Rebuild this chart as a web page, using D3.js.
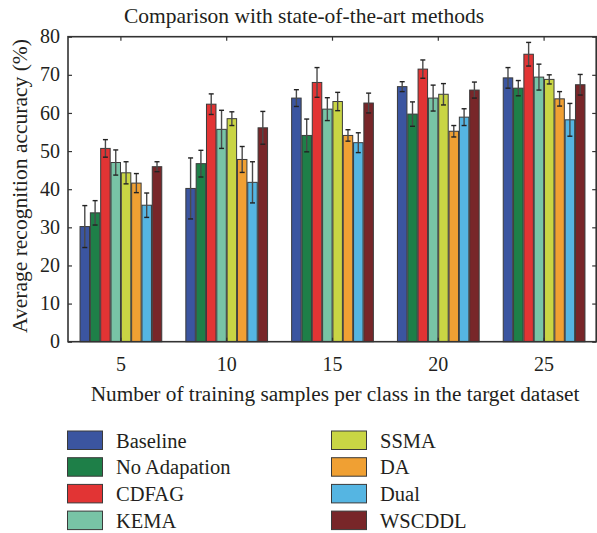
<!DOCTYPE html>
<html>
<head>
<meta charset="utf-8">
<script src="https://cdn.jsdelivr.net/npm/d3@7"></script>
<style>
  body { margin: 0; background: #fff; }
  svg text { font-family: "Liberation Serif", "DejaVu Serif", serif; fill: #231f20; }
</style>
</head>
<body>
<div id="chart"></div>
<script>
// training samples per class (x groups)
var groups = ["5", "10", "15", "20", "25"];
var methods = ["Baseline", "No Adapation", "CDFAG", "KEMA", "SSMA", "DA", "Dual", "WSCDDL"];
var colors = ["#3b55a0", "#1e7f48", "#e23434", "#78c4a6", "#c9d544", "#f0a033", "#55b5e2", "#782629"];

// mean accuracy, one array per method (5,10,15,20,25)
var baseline    = [30.2, 40.2, 63.9, 66.9, 69.2];
var noAdapation = [33.8, 46.7, 54.1, 59.7, 66.5];
var cdfag       = [50.7, 62.3, 68.0, 71.5, 75.4];
var kema        = [47.0, 55.7, 61.0, 63.9, 69.4];
var ssma        = [44.3, 58.5, 63.0, 64.9, 68.8];
var da          = [41.6, 47.8, 54.1, 55.2, 63.7];
var dual        = [35.8, 41.8, 52.2, 58.9, 58.2];
var wscddl      = [45.9, 56.1, 62.6, 66.0, 67.4];

// standard deviations (error bars)
var baselineErr    = [5.5, 8.0, 2.2, 1.3, 2.7];
var noAdapationErr = [3.2, 3.5, 4.3, 3.2, 2.0];
var cdfagErr       = [2.3, 2.7, 3.9, 2.4, 3.1];
var kemaErr        = [3.3, 5.0, 3.0, 3.4, 3.4];
var ssmaErr        = [2.9, 1.8, 2.4, 2.8, 1.2];
var daErr          = [2.5, 3.4, 1.5, 1.5, 1.9];
var dualErr        = [3.2, 5.4, 2.6, 2.2, 4.3];
var wscddlErr      = [1.3, 4.3, 2.6, 2.1, 2.7];

var yTicks = [0, 10, 20, 30, 40, 50, 60, 70, 80];

var means = [baseline, noAdapation, cdfag, kema, ssma, da, dual, wscddl];
var errs = [baselineErr, noAdapationErr, cdfagErr, kemaErr, ssmaErr, daErr, dualErr, wscddlErr];

var rows = [];
groups.forEach(function(g, gi) {
  methods.forEach(function(m, mi) {
    rows.push({group: g, method: m, value: means[mi][gi], err: errs[mi][gi], color: colors[mi]});
  });
});

var width = 597, height = 533;
// note: "top" is taken by window.top, so plot edges get their own names
var plotLeft = 68, plotRight = 597, plotTop = 36.7, plotBottom = 341.7;

var svg = d3.select("#chart").append("svg")
    .attr("width", width)
    .attr("height", height);

var x = d3.scaleBand().domain(groups).range([plotLeft, plotRight])
    .paddingInner(0.212).paddingOuter(0.106);
var xi = d3.scaleBand().domain(methods).range([0, x.bandwidth()]).padding(0.08);
var y = d3.scaleLinear().domain([0, 80]).range([plotBottom, plotTop]);

// bars
svg.append("g").selectAll("rect")
  .data(rows)
  .enter().append("rect")
    .attr("x", function(d) { return x(d.group) + xi(d.method); })
    .attr("y", function(d) { return y(d.value); })
    .attr("width", xi.bandwidth())
    .attr("height", function(d) { return y(0) - y(d.value); })
    .style("fill", function(d) { return d.color; })
    .style("stroke", "#3a3a3a")
    .style("stroke-width", 1);

// error bars
var eb = svg.append("g").selectAll("g")
  .data(rows)
  .enter().append("g")
    .attr("transform", function(d) { return "translate(" + (x(d.group) + xi(d.method) + xi.bandwidth() / 2) + ",0)"; });

eb.append("line")
    .attr("y1", function(d) { return y(d.value + d.err); })
    .attr("y2", function(d) { return y(d.value - d.err); })
    .style("stroke", "#4a4a4a").style("stroke-width", 1.4);
eb.append("line")
    .attr("x1", -2.5).attr("x2", 2.5)
    .attr("y1", function(d) { return y(d.value + d.err); })
    .attr("y2", function(d) { return y(d.value + d.err); })
    .style("stroke", "#222").style("stroke-width", 1.4);
eb.append("line")
    .attr("x1", -2.5).attr("x2", 2.5)
    .attr("y1", function(d) { return y(d.value - d.err); })
    .attr("y2", function(d) { return y(d.value - d.err); })
    .style("stroke", "#222").style("stroke-width", 1.4);

// axes (ticks point inward, box all round)
var axisColor = "#333";
var rightEdge = plotRight - 0.8;
var yAxis = svg.append("g").attr("transform", "translate(" + plotLeft + ",0)")
    .call(d3.axisRight(y).tickValues(yTicks).tickSize(4).tickFormat(""));
var yAxisR = svg.append("g").attr("transform", "translate(" + rightEdge + ",0)")
    .call(d3.axisLeft(y).tickValues(yTicks).tickSize(4).tickFormat(""));
var xAxis = svg.append("g").attr("transform", "translate(0," + plotBottom + ")")
    .call(d3.axisTop(x).tickSize(4).tickFormat(""));
var xAxisT = svg.append("g").attr("transform", "translate(0," + plotTop + ")")
    .call(d3.axisBottom(x).tickSize(4).tickFormat(""));

[yAxis, yAxisR, xAxis, xAxisT].forEach(function(a) {
  a.select(".domain").remove();
  a.selectAll("line").style("stroke", axisColor).style("stroke-width", 1.2);
});

svg.append("rect")
    .attr("x", plotLeft).attr("y", plotTop)
    .attr("width", rightEdge - plotLeft).attr("height", plotBottom - plotTop)
    .style("fill", "none").style("stroke", axisColor).style("stroke-width", 1.6);

// tick labels
svg.append("g").selectAll("text")
  .data(yTicks)
  .enter().append("text")
    .attr("x", 60)
    .attr("y", function(d) { return y(d); })
    .attr("dy", "0.33em")
    .attr("text-anchor", "end")
    .style("font-size", "20px")
    .text(function(d) { return d; });

svg.append("g").selectAll("text")
  .data(groups)
  .enter().append("text")
    .attr("x", function(d) { return x(d) + x.bandwidth() / 2; })
    .attr("y", 371)
    .attr("text-anchor", "middle")
    .style("font-size", "20px")
    .text(function(d) { return d; });

// titles
svg.append("text")
    .attr("x", 304).attr("y", 23)
    .attr("text-anchor", "middle")
    .style("font-size", "21.5px")
    .text("Comparison with state-of-the-art methods");

svg.append("text")
    .attr("x", 335).attr("y", 401)
    .attr("text-anchor", "middle")
    .style("font-size", "21.3px")
    .text("Number of training samples per class in the target dataset");

svg.append("text")
    .attr("transform", "translate(27,186) rotate(-90)")
    .attr("text-anchor", "middle")
    .style("font-size", "21.5px")
    .text("Average recognition accuracy (%)");

// legend, two columns of four
var legend = svg.append("g").selectAll("g")
  .data(methods)
  .enter().append("g")
    .attr("transform", function(d, i) {
      var col = Math.floor(i / 4), row = i % 4;
      return "translate(" + (67.5 + col * 264) + "," + (431 + row * 26.7) + ")";
    });

legend.append("rect")
    .attr("width", 35).attr("height", 18.5)
    .style("fill", function(d, i) { return colors[i]; })
    .style("stroke", "#3a3a3a").style("stroke-width", 1);

legend.append("text")
    .attr("x", 48.5).attr("y", 9.5)
    .attr("dy", "0.35em")
    .style("font-size", "20.5px")
    .text(function(d) { return d; });
</script>
</body>
</html>
